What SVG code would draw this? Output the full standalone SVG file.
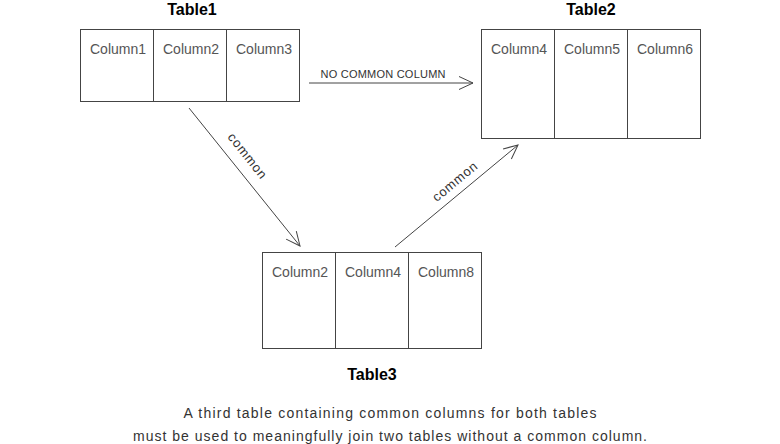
<svg xmlns="http://www.w3.org/2000/svg" width="780" height="444" viewBox="0 0 780 444">
<style>
.box{fill:none;stroke:#444;stroke-width:1}
.div{stroke:#444;stroke-width:1}
.title{font-family:"Liberation Sans",Arial,sans-serif;font-weight:bold;font-size:16px;fill:#000;text-anchor:middle}
.col{font-family:"Liberation Sans",Arial,sans-serif;font-size:14px;fill:#555;text-anchor:middle}
.lbl{font-family:"Liberation Sans",Arial,sans-serif;font-size:11px;fill:#333;text-anchor:middle}
.cm{font-size:13px}
.cap{font-family:"Liberation Sans",Arial,sans-serif;font-size:14px;fill:#333;text-anchor:middle}
.conn{stroke:#444;stroke-width:1;fill:none;marker-end:url(#arr)}
</style>
<defs>
<marker id="arr" markerUnits="userSpaceOnUse" markerWidth="20" markerHeight="20" viewBox="-16 -10 20 20" refX="0" refY="0" orient="auto">
<path d="M-14,-6.5 L0,0 L-14,6.5" fill="none" stroke="#444" stroke-width="1"/>
</marker>
</defs>
<rect width="780" height="444" fill="#fff"/>
<g id="table1">
<text class="title" x="192" y="15">Table1</text>
<rect class="box" x="80.5" y="29.5" width="219" height="72"/>
<line class="div" x1="153.5" y1="29.5" x2="153.5" y2="101.5"/>
<line class="div" x1="226.5" y1="29.5" x2="226.5" y2="101.5"/>
<text class="col" x="118" y="54" textLength="56">Column1</text>
<text class="col" x="191" y="54" textLength="56">Column2</text>
<text class="col" x="264" y="54" textLength="56">Column3</text>
</g>
<g id="table2">
<text class="title" x="591" y="15">Table2</text>
<rect class="box" x="481.5" y="29.5" width="219" height="109"/>
<line class="div" x1="554.5" y1="29.5" x2="554.5" y2="138.5"/>
<line class="div" x1="627.5" y1="29.5" x2="627.5" y2="138.5"/>
<text class="col" x="519" y="54" textLength="56">Column4</text>
<text class="col" x="592" y="54" textLength="56">Column5</text>
<text class="col" x="665" y="54" textLength="56">Column6</text>
</g>
<g id="table3">
<rect class="box" x="262.5" y="252.5" width="219" height="96"/>
<line class="div" x1="335.5" y1="252.5" x2="335.5" y2="348.5"/>
<line class="div" x1="408.5" y1="252.5" x2="408.5" y2="348.5"/>
<text class="col" x="300" y="277" textLength="56">Column2</text>
<text class="col" x="373" y="277" textLength="56">Column4</text>
<text class="col" x="446" y="277" textLength="56">Column8</text>
<text class="title" x="372" y="380">Table3</text>
</g>
<g id="connectors">
<line class="conn" x1="309" y1="83" x2="473" y2="83"/>
<text class="lbl" x="383" y="78" textLength="125">NO COMMON COLUMN</text>
<line class="conn" x1="189" y1="108" x2="300" y2="246"/>
<text class="lbl cm" transform="translate(247,156) rotate(51.6)" x="0" y="4" textLength="54">common</text>
<line class="conn" x1="395" y1="247" x2="518" y2="145"/>
<text class="lbl cm" transform="translate(455,182) rotate(-39.7)" x="0" y="4" textLength="54">common</text>
</g>
<g id="caption">
<text class="cap" x="390" y="418" textLength="413">A third table containing common columns for both tables</text>
<text class="cap" x="390" y="441" textLength="514">must be used to meaningfully join two tables without a common column.</text>
</g>
</svg>
